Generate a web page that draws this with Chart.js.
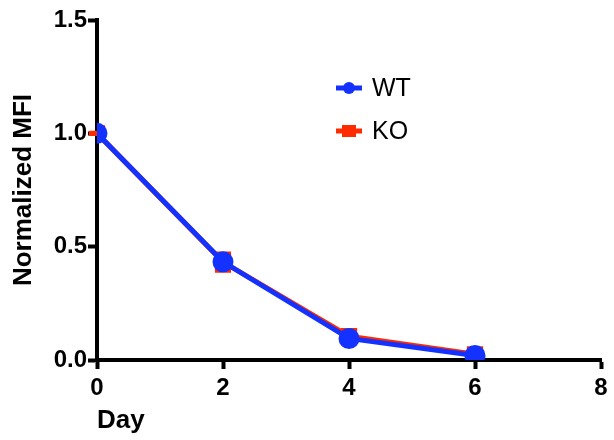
<!DOCTYPE html>
<html>
<head>
<meta charset="utf-8">
<script src="https://cdn.jsdelivr.net/npm/chart.js@4"></script>
<style>
  html, body { margin: 0; padding: 0; background: #fff; }
  #wrap { width: 614px; height: 440px; }
</style>
</head>
<body>
<div id="wrap"><canvas id="grafica"></canvas></div>
<script>
const dias = [0, 2, 4, 6]
const wt = [1.0, 0.433, 0.095, 0.02]
const ko = [1.0, 0.432, 0.105, 0.025]
const koError = [0.005, 0.04, 0.015, 0.01]
const xTicks = [0, 2, 4, 6, 8]
const yTicks = [0, 0.5, 1.0, 1.5]

const AZUL = '#1432ff'
const ROJO = '#ff2a00'
const fuente = "'Liberation Sans', Arial, sans-serif"

// barras de error para KO, se dibujan detras de las lineas
const barrasError = {
    id: 'barrasError',
    beforeDatasetsDraw(chart) {
        const { ctx, scales: { x, y } } = chart
        ctx.save()
        ctx.strokeStyle = ROJO
        ctx.lineWidth = 3
        dias.forEach((d, i) => {
            const px = x.getPixelForValue(d)
            const arriba = y.getPixelForValue(ko[i] + koError[i])
            const abajo = y.getPixelForValue(ko[i] - koError[i])
            ctx.beginPath()
            ctx.moveTo(px, arriba); ctx.lineTo(px, abajo)
            ctx.moveTo(px - 8, arriba); ctx.lineTo(px + 8, arriba)
            ctx.moveTo(px - 8, abajo); ctx.lineTo(px + 8, abajo)
            ctx.stroke()
        })
        ctx.restore()
    }
}

// leyenda con linea + marcador
const leyenda = {
    id: 'leyenda',
    afterDraw(chart) {
        const { ctx, chartArea } = chart
        const x0 = chartArea.left + 239
        const filas = [
            { texto: 'WT', color: AZUL, estilo: 'circle', y: chartArea.top + 68 },
            { texto: 'KO', color: ROJO, estilo: 'rect', y: chartArea.top + 111 }
        ]
        ctx.save()
        filas.forEach(f => {
            ctx.strokeStyle = f.color
            ctx.fillStyle = f.color
            ctx.lineWidth = 5
            ctx.beginPath()
            ctx.moveTo(x0, f.y); ctx.lineTo(x0 + 26, f.y)
            ctx.stroke()
            if (f.estilo === 'circle') {
                ctx.beginPath()
                ctx.arc(x0 + 13, f.y, 6, 0, Math.PI * 2)
                ctx.fill()
            } else {
                ctx.fillRect(x0 + 6, f.y - 6, 14, 12)
            }
            ctx.fillStyle = '#000'
            ctx.font = '25px ' + fuente
            ctx.textBaseline = 'middle'
            ctx.fillText(f.texto, x0 + 36, f.y + 1)
        })
        ctx.restore()
    }
}

const ejeComun = {
    border: { display: true, color: '#000', width: 4 },
    grid: {
        drawOnChartArea: false,
        drawTicks: true,
        tickLength: 9,
        tickWidth: 4,
        tickColor: '#000'
    }
}

new Chart(document.getElementById('grafica'), {
    type: 'line',
    data: {
        datasets: [
            {
                label: 'WT',
                data: dias.map((d, i) => ({ x: d, y: wt[i] })),
                borderColor: AZUL,
                backgroundColor: AZUL,
                borderWidth: 5,
                pointStyle: 'circle',
                pointRadius: 8,
                pointHoverRadius: 8,
                tension: 0
            },
            {
                label: 'KO',
                data: dias.map((d, i) => ({ x: d, y: ko[i] })),
                borderColor: ROJO,
                backgroundColor: ROJO,
                borderWidth: 5,
                pointStyle: 'rect',
                pointRadius: 8,
                pointHoverRadius: 8,
                tension: 0
            }
        ]
    },
    options: {
        responsive: true,
        maintainAspectRatio: false,
        animation: false,
        layout: { padding: { top: 20, right: 10, left: 0, bottom: 0 } },
        plugins: {
            legend: { display: false },
            tooltip: { enabled: false }
        },
        scales: {
            x: {
                ...ejeComun,
                type: 'linear',
                min: 0,
                max: 8,
                afterBuildTicks: s => { s.ticks = xTicks.map(v => ({ value: v })) },
                afterFit: s => { s.height = 80 },
                ticks: {
                    color: '#000',
                    padding: 5,
                    font: { family: fuente, size: 24, weight: 'bold' }
                },
                title: {
                    display: true,
                    text: 'Day',
                    align: 'start',
                    color: '#000',
                    padding: { top: 0, bottom: 4 },
                    font: { family: fuente, size: 26, weight: 'bold' }
                }
            },
            y: {
                ...ejeComun,
                type: 'linear',
                min: 0,
                max: 1.5,
                afterBuildTicks: s => { s.ticks = yTicks.map(v => ({ value: v })) },
                afterFit: s => { s.width = 97 },
                ticks: {
                    color: '#000',
                    padding: 1,
                    callback: v => v.toFixed(1),
                    font: { family: fuente, size: 24, weight: 'bold' }
                },
                title: {
                    display: true,
                    text: 'Normalized MFI',
                    color: '#000',
                    padding: { top: 8, bottom: 0 },
                    font: { family: fuente, size: 26, weight: 'bold' }
                }
            }
        }
    },
    plugins: [barrasError, leyenda]
})
</script>
</body>
</html>
